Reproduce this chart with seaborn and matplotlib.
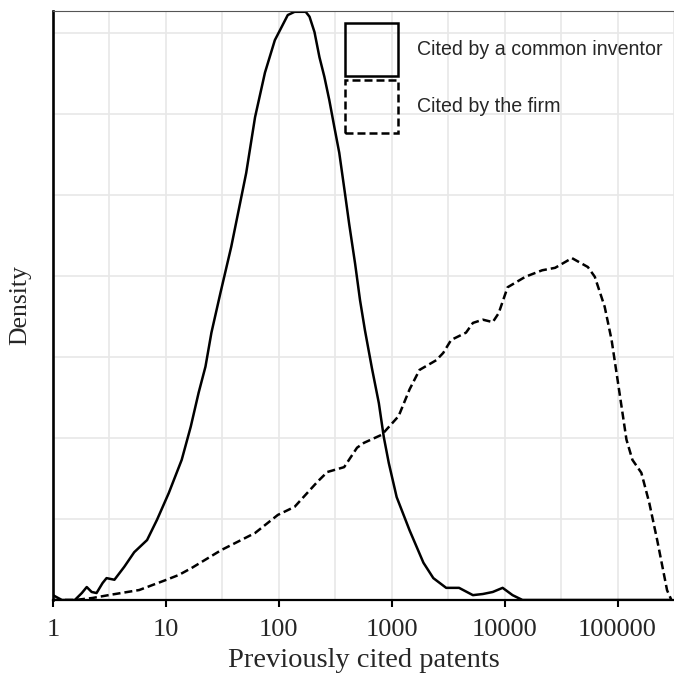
import numpy as np
import pandas as pd
import matplotlib
matplotlib.use("Agg")
import matplotlib.pyplot as plt
from matplotlib.patches import Patch
import seaborn as sns

# Values: x = previously cited patents, y = density
inventor_x = [1, 1.11, 1.2, 1.56, 1.8, 1.99, 2.2, 2.43, 2.75, 2.98,
              3.5, 4.28, 5.24, 6.81, 8.34, 10.6, 13.8, 16.6, 19.5, 22.4,
              25.3, 30.4, 37.9, 51.4, 61.6, 75.4, 92.2, 120, 138, 173,
              187, 207, 229, 253, 280, 310, 343, 387, 420, 474,
              524, 579, 668, 769, 851, 942, 1106, 1439, 1909, 2336,
              3035, 3946, 5236, 6412, 7848, 9600, 11750, 14390, 18700, 300000]
inventor_y = [0.006, 0.0025, 0, 0, 0.0086, 0.016, 0.0099, 0.0086, 0.021, 0.027,
              0.025, 0.041, 0.059, 0.074, 0.099, 0.132, 0.173, 0.214, 0.256, 0.288,
              0.330, 0.379, 0.436, 0.527, 0.596, 0.651, 0.691, 0.722, 0.726, 0.726,
              0.720, 0.701, 0.670, 0.646, 0.617, 0.584, 0.552, 0.500, 0.464, 0.415,
              0.370, 0.333, 0.286, 0.243, 0.201, 0.169, 0.127, 0.086, 0.046, 0.027,
              0.015, 0.015, 0.006, 0.0074, 0.0099, 0.015, 0.006, 0, 0, 0]

firm_x = [1, 1.56, 2.24, 3.16, 5.8, 10, 13.0, 16.9, 31.0, 61.6, 98, 138, 220,
          269, 379, 493, 568, 817, 1151, 1439, 1762, 2483, 2859, 3359, 4550,
          5236, 6412, 7848, 8851, 10620, 15280, 21530, 27990, 39460, 54580,
          62850, 76910, 88560, 100000, 119900, 135400, 162500, 190900, 224400,
          274600, 300000]
firm_y = [0, 0, 0.0025, 0.0062, 0.0123, 0.0247, 0.0309, 0.0395, 0.0617, 0.0827,
          0.105, 0.115, 0.146, 0.158, 0.164, 0.188, 0.194, 0.204, 0.227, 0.260,
          0.284, 0.296, 0.305, 0.321, 0.330, 0.342, 0.346, 0.343, 0.354, 0.386,
          0.399, 0.407, 0.410, 0.422, 0.411, 0.399, 0.362, 0.321, 0.272, 0.198,
          0.173, 0.157, 0.120, 0.074, 0.012, 0.0]

series_names = ["Cited by a common inventor", "Cited by the firm"]
x_ticks = [1, 10, 100, 1000, 10000, 100000]
x_tick_labels = ["1", "10", "100", "1000", "10000", "100000"]
x_minor = [3.162, 31.62, 316.2, 3162, 31623, 316228]
y_grid = [0.1, 0.2, 0.3, 0.4, 0.5, 0.6, 0.7]

df = pd.concat([
    pd.DataFrame({"x": inventor_x, "y": inventor_y, "series": series_names[0]}),
    pd.DataFrame({"x": firm_x, "y": firm_y, "series": series_names[1]}),
])

sns.set_theme(style="white")
plt.rcParams['font.family'] = ['Liberation Serif', 'DejaVu Serif']

W, H = 674, 675
fig = plt.figure(figsize=(W / 100, H / 100), dpi=100)
ax = fig.add_axes([53 / W, 75 / H, 621 / W, 589 / H])

dash = (3.2, 1.6)
sns.lineplot(data=df, x="x", y="y", style="series",
             dashes={series_names[0]: "", series_names[1]: dash},
             color="black", linewidth=1.8, legend=False, ax=ax,
             estimator=None, sort=False)

ax.set_xscale("log")
ax.set_xlim(1, 2.8e5)
ax.set_ylim(0, 0.727)

ax.set_xticks(x_ticks)
ax.set_xticklabels(x_tick_labels, fontsize=19)
ax.set_xticks(x_minor, minor=True)
ax.set_yticks(y_grid)
ax.set_yticklabels([])
ax.tick_params(axis="x", which="major", length=5, width=1.5, color="black",
               direction="out", pad=9, bottom=True)
ax.tick_params(axis="x", which="minor", length=0, bottom=False)
ax.tick_params(axis="y", length=0, left=False)

ax.grid(True, which="both", color="#e8e8e8", linewidth=1.2)
ax.set_axisbelow(True)

for side in ["left", "bottom"]:
    ax.spines[side].set_color("black")
ax.spines["left"].set_linewidth(1.9)
ax.spines["bottom"].set_linewidth(1.6)
ax.spines["top"].set_color("#555555")
ax.spines["top"].set_linewidth(0.8)
ax.spines["right"].set_visible(False)

ax.set_xlabel("Previously cited patents", fontsize=20.5, labelpad=5)
ax.set_ylabel("Density", fontsize=18.5, labelpad=12)

handles = [
    Patch(facecolor="none", edgecolor="black", linewidth=1.8, linestyle="-",
          label=series_names[0]),
    Patch(facecolor="none", edgecolor="black", linewidth=1.8,
          linestyle=(0, dash), label=series_names[1]),
]
leg = ax.legend(handles=handles, loc="upper left",
                bbox_to_anchor=(345 / W, 1 - 23 / H), bbox_transform=fig.transFigure,
                frameon=False, borderpad=0, borderaxespad=0,
                handlelength=2.7, handleheight=3.78, handletextpad=1.0,
                labelspacing=0.2, prop={"family": "Liberation Sans", "size": 14.1})

fig.savefig("out.png", dpi=100, facecolor="white")
